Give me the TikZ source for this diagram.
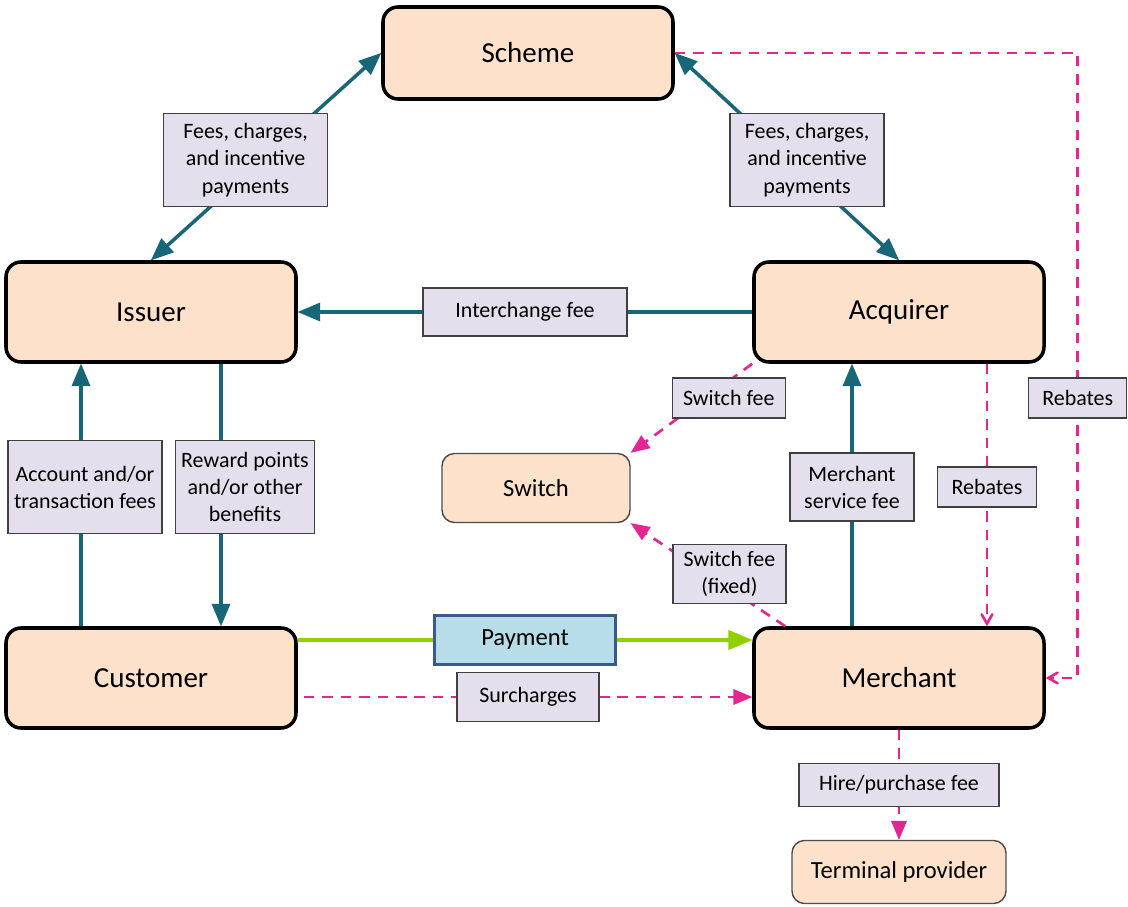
\documentclass[tikz,border=0pt]{standalone}
\usepackage{fontspec}
\setmainfont{Carlito}
\usepackage{tikz}
\usetikzlibrary{shapes,arrows}
\definecolor{peach}{RGB}{253,225,202}
\definecolor{lilac}{RGB}{228,223,236}
\definecolor{paleblue}{RGB}{183,221,232}
\definecolor{navy}{RGB}{58,90,140}
\definecolor{tealflow}{RGB}{24,103,120}
\definecolor{pinkfee}{RGB}{228,38,146}
\definecolor{paygreen}{RGB}{144,208,0}
\tikzstyle{block} = [draw, fill=peach, rectangle, rounded corners=0.3cm, line width=2pt,
minimum height=2cm, minimum width=5.8cm, font=\fontsize{16.5}{20}\selectfont]
\tikzstyle{minor} = [draw=black!70, fill=peach, rectangle, rounded corners=0.25cm, line width=0.8pt,
font=\fontsize{14}{17}\selectfont]
\tikzstyle{feebox} = [draw=black!75, fill=lilac, rectangle, solid, line width=0.8pt, align=center,
inner sep=2pt, font=\fontsize{12.5}{15.5}\selectfont]
\tikzstyle{paybox} = [draw=navy, fill=paleblue, rectangle, line width=1.8pt,
minimum width=3.62cm, minimum height=0.98cm, font=\fontsize{14}{17}\selectfont]
\tikzstyle{flow} = [draw=tealflow, line width=2pt, -triangle 45]
\tikzstyle{fee} = [draw=pinkfee, line width=1.5pt, dash pattern=on 6pt off 4.5pt, -triangle 45]
\tikzstyle{rebate} = [fee, -angle 60]
\tikzstyle{pay} = [draw=paygreen, line width=2.2pt, -triangle 45]

\begin{document}
\begin{tikzpicture}[node distance=2cm]
	\useasboundingbox (0,0) rectangle (22.56,-18.14);

	\node [block, minimum height=1.84cm] (scheme) at (10.56,-1.06) {Scheme};
	\node [block] (issuer) at (3.02,-6.24) {Issuer};
	\node [block, right of=issuer, node distance=14.96cm] (acquirer) {Acquirer};
	\node [block, below of=issuer, node distance=7.32cm] (customer) {Customer};
	\node [block, below of=acquirer, node distance=7.32cm] (merchant) {Merchant};
	\node [minor, minimum width=3.76cm, minimum height=1.38cm] (switch) at (10.72,-9.76) {Switch};
	\node [minor, minimum width=4.28cm, minimum height=1.26cm, below of=merchant, node distance=3.88cm] (terminal) {Terminal provider};

	\draw [flow, triangle 45-triangle 45] (issuer.north) -- node[feebox, pos=0.45, xshift=-0.18cm, yshift=0.14cm, minimum width=3.28cm, minimum height=1.86cm, name=feesi] {Fees, charges,\\and incentive\\payments} (scheme.west);
	\draw [flow, triangle 45-triangle 45] (scheme.east) -- node[feebox, pos=0.55, xshift=0.18cm, yshift=0.14cm, minimum width=3.08cm, minimum height=1.86cm, name=feesa] {Fees, charges,\\and incentive\\payments} (acquirer.north);
	\draw [flow] (acquirer.west) -- node[feebox, minimum width=4.08cm, minimum height=0.96cm, name=interchange] {Interchange fee} (issuer.east);
	\draw [flow] ([xshift=-1.4cm]customer.north) -- node[feebox, pos=0.53, xshift=0.08cm, minimum width=3.08cm, minimum height=1.86cm, name=accfee] {Account and/or\\transaction fees} ([xshift=-1.4cm]issuer.south);
	\draw [flow] ([xshift=1.4cm]issuer.south) -- node[feebox, pos=0.47, xshift=0.48cm, minimum width=2.78cm, minimum height=1.86cm, name=reward] {Reward points\\and/or other\\benefits} ([xshift=1.4cm]customer.north);
	\draw [flow] ([xshift=-0.94cm]merchant.north) -- node[feebox, pos=0.53, minimum width=2.48cm, minimum height=1.36cm, name=service] {Merchant\\service fee} ([xshift=-0.94cm]acquirer.south);

	\draw [fee] (acquirer.south west) -- node[feebox, pos=0.3, xshift=0.26cm, yshift=-0.15cm, minimum width=2.26cm, minimum height=0.8cm, name=switchfee] {Switch fee} (switch.north east);
	\draw [fee] ([xshift=0.66cm]merchant.north west) -- node[feebox, pos=0.4, xshift=0.12cm, yshift=0.22cm, minimum width=2.26cm, minimum height=1.18cm, name=fixedfee] {Switch fee\\(fixed)} (switch.south east);
	\draw [rebate] ([xshift=1.76cm]acquirer.south) -- node[feebox, pos=0.47, minimum width=1.98cm, minimum height=0.8cm, name=rebatea] {Rebates} ([xshift=1.76cm]merchant.north);
	\draw [rebate] (scheme.east) -| node[feebox, pos=0.776, minimum width=1.96cm, minimum height=0.8cm, name=rebates] {Rebates} ([xshift=0.64cm]merchant.east) -- (merchant.east);

	\draw [pay] ([yshift=0.76cm]customer.east) -- node[paybox, name=payment] {Payment} ([yshift=0.76cm]merchant.west);
	\draw [fee] ([xshift=0.12cm, yshift=-0.38cm]customer.east) -- node[feebox, minimum width=2.84cm, minimum height=0.98cm, name=surcharge] {Surcharges} ([yshift=-0.38cm]merchant.west);
	\draw [fee] (merchant.south) -- node[feebox, minimum width=4cm, minimum height=0.86cm, name=hire] {Hire/purchase fee} (terminal.north);

\end{tikzpicture}
\end{document}
